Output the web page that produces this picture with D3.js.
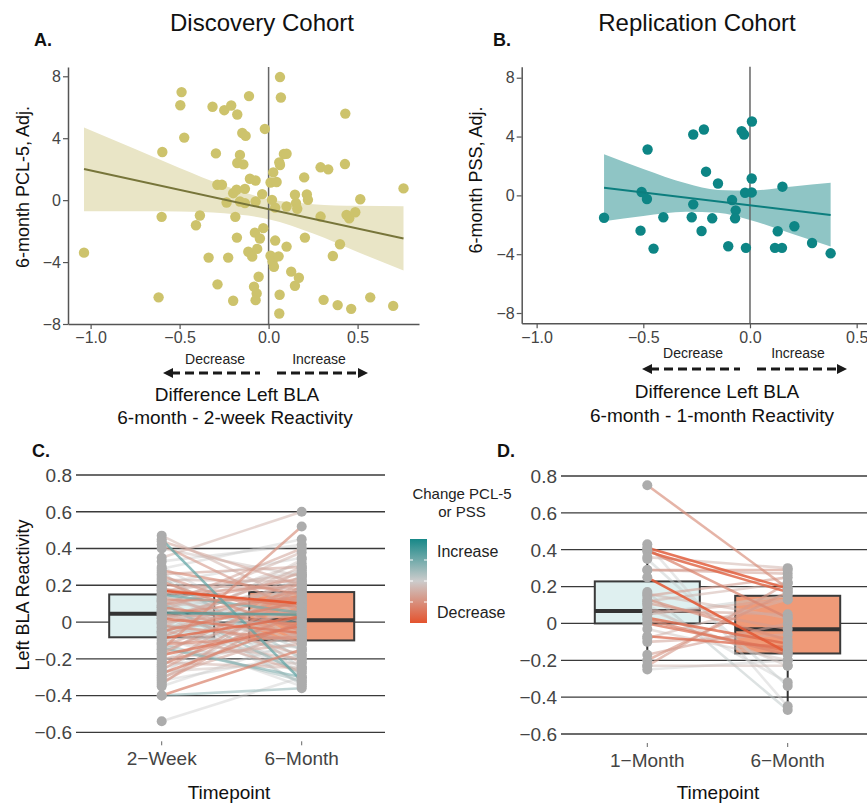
<!DOCTYPE html>
<html>
<head>
<meta charset="utf-8">
<script src="https://cdn.jsdelivr.net/npm/d3@7"></script>
<style>
  body { margin: 0; background: #fff; }
  text { font-family: "Liberation Sans", Arial, sans-serif; }
</style>
</head>
<body>
<svg id="fig" width="867" height="805"></svg>
<script>
// ---- Data ----

// A. Discovery cohort scatter (difference in left BLA reactivity vs 6-month PCL-5)
const discX = [-1.037,-0.618,-0.597,-0.601,-0.489,-0.496,-0.474,-0.386,-0.408,-0.337,-0.315,-0.296,-0.288,-0.262,-0.287,-0.249,-0.210,-0.227,-0.236,-0.199,-0.187,-0.176,-0.178,-0.199,-0.180,-0.176,-0.161,-0.142,-0.148,-0.129,-0.133,-0.161,-0.133,-0.110,-0.105,-0.073,-0.073,-0.114,-0.092,-0.064,-0.077,-0.049,-0.030,-0.036,-0.021,-0.056,-0.082,-0.067,-0.073,0.019,0.011,0.026,0.045,0.037,0.037,0.011,0.022,0.030,0.056,0.060,0.064,0.064,0.069,0.062,0.060,0.086,0.101,0.101,0.101,0.127,0.148,0.154,0.161,0.148,0.170,0.200,0.204,0.215,0.221,0.292,0.292,0.335,0.309,0.361,0.388,0.401,0.431,0.429,0.438,0.453,0.487,0.464,0.515,0.571,0.700,0.758];
const discY = [-3.39,-6.28,3.11,-1.08,6.98,6.13,4.04,-0.99,-1.62,-3.71,6.03,3.02,0.99,0.99,-5.44,5.81,6.11,-3.71,-0.15,-6.50,-1.08,5.53,-2.42,0.45,0.67,2.40,2.92,2.31,4.34,4.15,0.73,-0.09,-0.19,6.72,1.38,1.27,-0.09,-3.33,-3.65,-3.15,-2.10,-2.48,-1.81,0.39,4.60,-4.95,-5.59,-6.03,-6.46,0.02,1.14,1.79,1.17,-0.48,-2.61,-3.59,-3.97,-4.30,-3.63,2.44,2.27,7.95,6.63,-6.11,-7.32,2.98,3.00,-0.41,-3.00,-4.62,0.35,-0.19,-0.56,-5.53,-5.01,1.47,-2.42,0.37,0.02,-1.06,2.12,1.99,-6.44,-3.61,-6.78,-2.85,5.59,2.33,-0.95,-1.17,-0.78,-7.02,0.06,-6.28,-6.83,0.76];
const discFitX = [-1.037, 0.758];
const discFitY = [2.01, -2.48];
const discBandX  = [-1.037, -0.75, -0.5, -0.25, 0, 0.25, 0.5, 0.758];
const discBandLo = [-0.72, -0.72, -0.74, -0.85, -1.23, -2.15, -3.35, -4.55];
const discBandHi = [4.70, 3.31, 2.08, 0.94, 0.07, -0.26, -0.37, -0.40];

// B. Replication cohort scatter (vs 6-month PSS)
const repX = [-0.684,-0.513,-0.508,-0.483,-0.480,-0.452,-0.406,-0.273,-0.266,-0.266,-0.227,-0.216,-0.206,-0.177,-0.150,-0.102,-0.084,-0.067,-0.070,-0.039,-0.028,-0.023,-0.019,0.008,0.009,0.008,0.130,0.117,0.150,0.152,0.208,0.291,0.378];
const repY = [-1.52,-2.40,0.23,-0.25,3.12,-3.62,-1.49,-1.49,4.14,-0.61,-2.42,4.48,1.61,-1.56,0.81,-3.46,-0.32,-1.02,-1.56,4.37,4.14,0.18,-3.57,0.20,5.02,1.15,-2.44,-3.57,-3.57,0.59,-2.10,-3.24,-3.94];
const repFitX = [-0.684, 0.378];
const repFitY = [0.52, -1.33];
const repBandX  = [-0.684, -0.5, -0.3, -0.15, 0, 0.2, 0.378];
const repBandLo = [-1.76, -1.40, -1.12, -1.18, -1.67, -2.62, -3.48];
const repBandHi = [2.80, 1.80, 0.82, 0.37, 0.33, 0.60, 0.85];

const scatterXTicks = [-1.0, -0.5, 0.0, 0.5];
const scatterYTicks = [-8, -4, 0, 4, 8];

// C. Discovery cohort paired reactivity
const timeC = ["2\u2212Week", "6\u2212Month"];
const week2C = [0.47,0.45,0.44,0.42,0.40,0.35,0.30,0.29,0.28,0.27,0.26,0.25,0.24,0.23,0.22,0.21,0.20,0.19,0.18,0.17,0.17,0.16,0.15,0.15,0.14,0.13,0.12,0.12,0.11,0.10,0.09,0.08,0.08,0.07,0.06,0.05,0.05,0.04,0.04,0.03,0.02,0.02,0.01,0.00,0.00,-0.01,-0.02,-0.03,-0.03,-0.04,-0.05,-0.05,-0.06,-0.07,-0.08,-0.08,-0.09,-0.10,-0.11,-0.12,-0.13,-0.14,-0.15,-0.15,-0.16,-0.17,-0.18,-0.19,-0.20,-0.21,-0.22,-0.23,-0.24,-0.25,-0.26,-0.27,-0.28,-0.29,-0.30,-0.31,-0.32,-0.33,-0.34,-0.35,-0.40,-0.40,-0.54,0.33,0.11,0.06,-0.01,-0.06,0.19,0.09,-0.12,0.03];
const month6C = [0.10,-0.32,0.20,0.05,0.25,0.60,-0.10,0.45,0.15,-0.25,0.30,0.00,-0.20,0.22,-0.05,0.35,0.18,-0.30,0.08,0.10,0.26,-0.15,0.05,0.20,-0.08,0.28,-0.22,0.12,0.02,-0.28,0.24,-0.02,0.17,-0.12,0.32,0.04,-0.18,0.14,-0.33,0.21,-0.06,0.09,0.27,-0.24,0.06,0.16,-0.10,0.30,0.01,-0.27,0.11,-0.04,0.23,-0.14,0.19,-0.35,0.03,-0.20,0.25,-0.08,0.13,-0.30,0.52,0.07,-0.16,0.18,-0.02,0.29,-0.12,0.10,-0.25,0.04,0.22,-0.07,0.15,-0.22,0.00,0.26,-0.05,0.12,-0.18,0.08,0.20,-0.10,-0.36,-0.15,-0.30,0.42,-0.34,0.38,-0.26,0.34,-0.12,0.40,-0.32,0.05];
const changeC = [-0.2,0.6,-0.3,-0.4,-0.1,-0.2,0.0,0.0,-0.5,0.1,-0.3,-0.4,0.2,-0.2,-0.5,0.0,-0.3,0.0,-0.6,-1.0,-0.2,0.1,0.5,-0.4,-0.3,0.0,-0.2,-0.5,-0.1,0.3,-0.4,-0.6,0.0,-0.2,-0.1,0.7,-0.3,-0.5,0.0,-0.2,-0.7,0.0,-0.3,-0.1,-0.4,0.0,-0.5,-0.2,0.2,-0.3,-0.6,0.0,-0.3,0.1,-0.4,0.0,-0.8,-0.2,0.0,-0.5,-0.3,0.4,-0.5,-0.2,0.0,-0.4,-0.7,-0.1,-0.3,0.0,-0.2,-0.5,-0.3,0.0,-0.4,-0.1,-0.6,0.0,-0.3,-0.2,0.0,-0.4,-0.3,0.0,0.3,-0.6,0.0,0.0,0.1,-0.2,0.0,-0.1,0.0,-0.3,0.2,-0.3];
const boxC_q1  = [-0.083, -0.100];
const boxC_med = [0.045, 0.009];
const boxC_q3  = [0.150, 0.163];
const boxC_lo  = [-0.40, -0.36];
const boxC_hi  = [0.47, 0.45];

// D. Replication cohort paired reactivity
const timeD = ["1\u2212Month", "6\u2212Month"];
const month1D = [0.75,0.41,0.39,0.43,0.35,0.29,0.25,0.29,0.17,0.15,0.12,0.10,0.07,0.05,0.03,0.00,0.16,-0.03,-0.07,-0.10,-0.17,-0.20,-0.23,-0.25,-0.23,0.13,0.08,0.40,0.36,0.02,-0.08,0.11,0.05];
const month6D = [0.19,0.19,0.17,-0.45,-0.34,0.29,-0.16,0.27,-0.47,0.25,0.22,-0.32,0.05,0.13,-0.11,-0.15,0.03,-0.20,-0.13,-0.06,0.00,0.17,0.22,-0.20,-0.23,-0.09,-0.23,0.03,0.30,-0.17,0.13,-0.03,0.15];
const changeD = [-0.5,-0.9,-0.85,0.0,0.05,-0.4,-0.95,-0.3,0.1,-0.35,-0.2,0.0,-0.3,-0.25,-0.8,-0.7,-0.2,-0.1,-0.75,-0.3,-0.35,-0.45,-0.4,0.0,-0.15,-0.5,-0.1,-0.6,-0.2,-0.6,-0.2,-0.4,0.05];
const boxD_q1  = [0.000, -0.163];
const boxD_med = [0.067, -0.031];
const boxD_q3  = [0.228, 0.150];
const boxD_lo  = [-0.25, -0.47];
const boxD_hi  = [0.43, 0.30];

const pairedYTicks = [-0.6, -0.4, -0.2, 0, 0.2, 0.4, 0.6, 0.8];
const boxFill = ["#dff0f0", "#ef9a78"];

// change colour: decrease -> red/orange, none -> grey, increase -> teal
const changeColor = d3.scaleLinear()
  .domain([-1, 0, 1])
  .range(["#e4532e", "#cccccc", "#178888"]);

// ---- Helpers ----

const svg = d3.select("#fig");
const minus = s => s.replace("-", "\u2212");

function label(txt, x, y, size, opts = {}) {
  const t = svg.append("text")
    .attr("x", x).attr("y", y)
    .attr("font-size", size)
    .attr("text-anchor", opts.anchor || "middle")
    .attr("fill", opts.fill || "#111")
    .text(txt);
  if (opts.bold) t.attr("font-weight", "bold");
  if (opts.rotate) t.attr("transform", "rotate(-90," + x + "," + y + ")");
  return t;
}

function arrowPair(y, l0, l1, r0, r1) {
  const g = svg.append("g").attr("stroke", "#1a1a1a").attr("stroke-width", 3)
    .attr("stroke-dasharray", "9,5");
  g.append("line").attr("x1", l0 + 8).attr("x2", l1).attr("y1", y).attr("y2", y);
  g.append("line").attr("x1", r0).attr("x2", r1 - 8).attr("y1", y).attr("y2", y);
  svg.append("path").attr("fill", "#1a1a1a")
    .attr("d", `M${l0},${y} L${l0 + 10},${y - 5} L${l0 + 10},${y + 5} Z`);
  svg.append("path").attr("fill", "#1a1a1a")
    .attr("d", `M${r1},${y} L${r1 - 10},${y - 5} L${r1 - 10},${y + 5} Z`);
}

// ---- Scatter panels (A, B) ----

function scatterPanel(cfg) {
  const x = d3.scaleLinear().domain(cfg.xDom).range(cfg.xRange);
  const y = d3.scaleLinear().domain(cfg.yDom).range(cfg.yRange);
  const g = svg.append("g");

  // confidence band
  const band = cfg.bandX.map((v, i) => ({ x: v, lo: cfg.bandLo[i], hi: cfg.bandHi[i] }));
  g.append("path").datum(band)
    .attr("fill", cfg.bandColor)
    .attr("d", d3.area().x(d => x(d.x)).y0(d => y(d.lo)).y1(d => y(d.hi))
      .curve(d3.curveMonotoneX));

  // zero reference line
  g.append("line")
    .attr("x1", x(0)).attr("x2", x(0))
    .attr("y1", cfg.yRange[0]).attr("y2", cfg.yRange[1])
    .attr("stroke", "#666").attr("stroke-width", 1.5);

  // points
  g.selectAll("circle.pt")
    .data(cfg.px.map((v, i) => [v, cfg.py[i]]))
    .enter().append("circle")
    .attr("class", "pt")
    .attr("cx", d => x(d[0])).attr("cy", d => y(d[1]))
    .attr("r", 5.2)
    .attr("fill", cfg.pointColor);

  // fitted line
  g.append("path").datum(cfg.fitX.map((v, i) => [v, cfg.fitY[i]]))
    .attr("fill", "none").attr("stroke", cfg.lineColor).attr("stroke-width", 2)
    .attr("d", d3.line().x(d => x(d[0])).y(d => y(d[1])));

  // axes
  const fmtY = d => minus(d3.format("d")(d));
  const fmtX = d => minus(d3.format(".1f")(d));
  const ya = g.append("g").attr("transform", `translate(${cfg.xRange[0]},0)`)
    .call(d3.axisLeft(y).tickValues(scatterYTicks).tickFormat(fmtY).tickSize(5).tickSizeOuter(0).tickPadding(2));
  const xa = g.append("g").attr("transform", `translate(0,${cfg.yRange[0]})`)
    .call(d3.axisBottom(x).tickValues(scatterXTicks).tickFormat(fmtX).tickSize(5).tickSizeOuter(0).tickPadding(3));
  [ya, xa].forEach(a => {
    a.select(".domain").attr("stroke", "#555").attr("stroke-width", 1.5);
    a.selectAll(".tick line").attr("stroke", "#555").attr("stroke-width", 1.2);
    a.selectAll(".tick text").attr("fill", "#444").attr("font-size", 16)
      .attr("font-family", "Liberation Sans, Arial, sans-serif");
  });
}

// ---- Paired panels (C, D) ----

function pairedPanel(cfg) {
  const y = d3.scaleLinear().domain([-0.6, 0.8]).range(cfg.yRange);
  const x = d3.scalePoint().domain(cfg.times).range(cfg.xRange);
  const g = svg.append("g");
  const boxW = 105;

  // horizontal grid lines
  g.selectAll("line.grid").data(pairedYTicks).enter().append("line")
    .attr("x1", cfg.gridX[0]).attr("x2", cfg.gridX[1])
    .attr("y1", d => y(d)).attr("y2", d => y(d))
    .attr("stroke", "#3a3a3a").attr("stroke-width", 1.3);

  g.selectAll("text.ytick").data(pairedYTicks).enter().append("text")
    .attr("x", cfg.labelX).attr("y", d => y(d)).attr("dy", "0.36em")
    .attr("text-anchor", "end").attr("font-size", 19).attr("fill", "#444")
    .text(d => d === 0 ? "0" : minus(d3.format(".1f")(d)));

  // boxes
  cfg.times.forEach((t, i) => {
    const cx = x(t);
    g.append("line").attr("x1", cx).attr("x2", cx)
      .attr("y1", y(cfg.box.lo[i])).attr("y2", y(cfg.box.hi[i]))
      .attr("stroke", "#333").attr("stroke-width", 2);
    g.append("rect")
      .attr("x", cx - boxW / 2).attr("width", boxW)
      .attr("y", y(cfg.box.q3[i])).attr("height", y(cfg.box.q1[i]) - y(cfg.box.q3[i]))
      .attr("fill", boxFill[i]).attr("stroke", "#3a3a3a").attr("stroke-width", 2);
    g.append("line").attr("x1", cx - boxW / 2).attr("x2", cx + boxW / 2)
      .attr("y1", y(cfg.box.med[i])).attr("y2", y(cfg.box.med[i]))
      .attr("stroke", "#333").attr("stroke-width", 4);
  });

  // subject lines, strongest changes drawn last and most opaque
  const subj = cfg.a.map((v, i) => ({ a: v, b: cfg.b[i], c: cfg.c[i] }))
    .sort((p, q) => Math.abs(p.c) - Math.abs(q.c));
  g.selectAll("line.subj").data(subj).enter().append("line")
    .attr("x1", x(cfg.times[0])).attr("x2", x(cfg.times[1]))
    .attr("y1", d => y(d.a)).attr("y2", d => y(d.b))
    .attr("stroke", d => changeColor(d.c))
    .attr("stroke-opacity", d => 0.45 + 0.45 * Math.abs(d.c))
    .attr("stroke-width", 2.6);

  // points at both timepoints
  [cfg.a, cfg.b].forEach((vals, k) => {
    g.selectAll("circle.t" + k).data(vals).enter().append("circle")
      .attr("cx", x(cfg.times[k])).attr("cy", d => y(d))
      .attr("r", 5).attr("fill", "#acacac");
  });

  // x ticks and labels
  cfg.times.forEach(t => {
    g.append("line").attr("x1", x(t)).attr("x2", x(t))
      .attr("y1", cfg.yRange[0] + 9).attr("y2", cfg.yRange[0] + 13)
      .attr("stroke", "#666").attr("stroke-width", 1);
    g.append("text").attr("x", x(t)).attr("y", cfg.yRange[0] + 33)
      .attr("text-anchor", "middle").attr("font-size", 19).attr("fill", "#444")
      .text(t);
  });
  label("Timepoint", cfg.titleX, 799, 19);
}

// ---- Draw ----

// Panel A
scatterPanel({
  px: discX, py: discY,
  fitX: discFitX, fitY: discFitY,
  bandX: discBandX, bandLo: discBandLo, bandHi: discBandHi,
  xDom: [-1.127, 0.845], xRange: [68, 419],
  yDom: [-8, 8.6], yRange: [324, 67],
  pointColor: "#cdc36c", bandColor: "#e9e5c6", lineColor: "#77753a"
});
label("Discovery Cohort", 262, 31, 24);
label("A.", 34, 46, 18, { anchor: "start", bold: true });
label("6-month PCL-5, Adj.", 29, 187, 18, { rotate: true });
label("Decrease", 215, 364, 14, { fill: "#222" });
label("Increase", 319, 364, 14, { fill: "#222" });
arrowPair(373, 163, 260, 277, 368);
label("Difference Left BLA", 237, 401, 19);
label("6-month - 2-week Reactivity", 235, 424, 19);

// Panel B
scatterPanel({
  px: repX, py: repY,
  fitX: repFitX, fitY: repFitY,
  bandX: repBandX, bandLo: repBandLo, bandHi: repBandHi,
  xDom: [-1.07, 0.6], xRange: [521.7, 878],
  yDom: [-8.7, 8.75], yRange: [323.3, 66.7],
  pointColor: "#0d8585", bandColor: "#8fc5c5", lineColor: "#0c7e7e"
});
label("Replication Cohort", 697, 31, 24);
label("B.", 493, 46, 18, { anchor: "start", bold: true });
label("6-month PSS, Adj.", 482, 180, 18, { rotate: true });
label("Decrease", 693, 358, 14, { fill: "#222" });
label("Increase", 798, 358, 14, { fill: "#222" });
arrowPair(369, 642, 740, 757, 847);
label("Difference Left BLA", 717, 398, 19);
label("6-month - 1-month Reactivity", 712, 422, 19);

// Panel C
label("C.", 32, 457, 18, { anchor: "start", bold: true });
pairedPanel({
  times: timeC, a: week2C, b: month6C, c: changeC,
  box: { q1: boxC_q1, med: boxC_med, q3: boxC_q3, lo: boxC_lo, hi: boxC_hi },
  yRange: [732.3, 475], xRange: [161.7, 301.7],
  gridX: [76, 385], labelX: 72, titleX: 229
});
label("Left BLA Reactivity", 29, 595, 18, { rotate: true });

// Panel D
label("D.", 497, 457, 18, { anchor: "start", bold: true });
pairedPanel({
  times: timeD, a: month1D, b: month6D, c: changeD,
  box: { q1: boxD_q1, med: boxD_med, q3: boxD_q3, lo: boxD_lo, hi: boxD_hi },
  yRange: [734, 476], xRange: [647.3, 787.7],
  gridX: [561, 867], labelX: 557, titleX: 718
});

// Colour legend
const defs = svg.append("defs");
const grad = defs.append("linearGradient").attr("id", "chg")
  .attr("x1", 0).attr("x2", 0).attr("y1", 0).attr("y2", 1);
[[0, 1], [0.5, 0], [1, -1]].forEach(([o, v]) =>
  grad.append("stop").attr("offset", o).attr("stop-color", changeColor(v)));
label("Change PCL-5", 462, 499, 15, { fill: "#222" });
label("or PSS", 462, 517, 15, { fill: "#222" });
svg.append("rect").attr("x", 410).attr("y", 539).attr("width", 17).attr("height", 84)
  .attr("fill", "url(#chg)");
[560, 581, 602].forEach(ty => {
  svg.append("line").attr("x1", 410).attr("x2", 413).attr("y1", ty).attr("y2", ty)
    .attr("stroke", "#fff").attr("stroke-width", 1);
  svg.append("line").attr("x1", 424).attr("x2", 427).attr("y1", ty).attr("y2", ty)
    .attr("stroke", "#fff").attr("stroke-width", 1);
});
label("Increase", 437, 557, 16, { anchor: "start", fill: "#222" });
label("Decrease", 437, 618, 16, { anchor: "start", fill: "#222" });
</script>
</body>
</html>
